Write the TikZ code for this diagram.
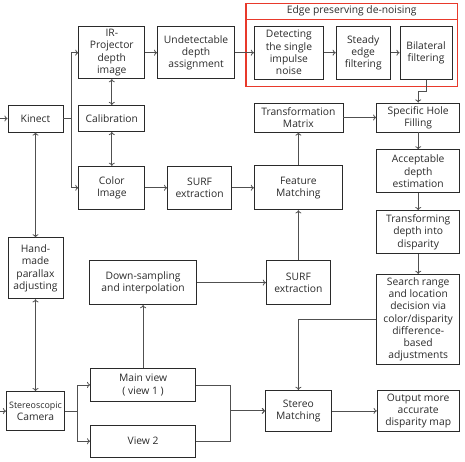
\documentclass[tikz,border=0pt]{standalone}
\usepackage{fontspec}
\setmainfont{Open Sans}
\usepackage{xcolor}
\usetikzlibrary{arrows.meta,positioning,fit}
\definecolor{boxline}{HTML}{2A2A2A}
\definecolor{linkgray}{HTML}{505050}
\definecolor{framered}{HTML}{E8392B}

\begin{document}
\begin{tikzpicture}[
  >={To[length=3.2pt,width=6pt]},
  box/.style={draw=boxline,line width=.8pt,align=center,inner sep=2pt,text=boxline},
  link/.style={draw=linkgray,line width=.8pt},
  arrow/.style={link,->},
  biarrow/.style={link,<->},
  every node/.style={font=\fontsize{10.3}{12.3}\selectfont}
]
  \useasboundingbox (0,0) rectangle (465pt,-462pt);
  % kinect branch
  \node[box,minimum width=55pt,minimum height=27pt] (kinect) at (35.5pt,-118.5pt) {Kinect};
  \node[box,minimum width=66pt,minimum height=26pt,right=15pt of kinect] (calib) {Calibration};
  \node[box,minimum width=66pt,minimum height=52pt,above=26pt of calib] (irimg) {IR-\\Projector\\depth\\image};
  \node[box,minimum width=66pt,minimum height=43pt,below=34pt of calib] (colorimg) {Color\\Image};
  \node[box,minimum width=77pt,minimum height=52pt,right=12pt of irimg] (undet) {Undetectable\\depth\\assignment};
  \node[box,minimum width=64pt,minimum height=43pt,right=22pt of colorimg] (surftop) {SURF\\extraction};
  % de-noising stages
  \node[box,minimum width=69pt,minimum height=53pt,right=19pt of undet] (detect) {Detecting\\the single\\impulse\\noise};
  \node[box,minimum width=54pt,minimum height=53pt,right=12pt of detect] (steady) {Steady\\edge\\filtering};
  \node[box,minimum width=52pt,minimum height=53pt,right=9pt of steady] (bilat) {Bilateral\\filtering};
  \coordinate (framenw) at ([shift={(-8pt,22pt)}]detect.north west);
  \coordinate (framese) at ([shift={(5pt,-7pt)}]bilat.south east);
  \node[draw=framered,line width=1.2pt,inner sep=0pt,fit=(framenw)(framese)] (denoise) {};
  \draw[framered,line width=1.2pt] ([yshift=-16pt]denoise.north west) -- ([yshift=-16pt]denoise.north east);
  \node[text=boxline,inner sep=0pt] (denoisetitle) at ([yshift=-8pt]denoise.north) {Edge preserving de-noising};
  % matching column
  \node[box,minimum width=88pt,minimum height=44pt,right=22pt of surftop] (featmatch) {Feature\\Matching};
  \node[box,minimum width=89pt,minimum height=29pt,above=33pt of featmatch] (transmat) {Transformation\\Matrix};
  \node[box,minimum width=83pt,minimum height=29pt,right=33pt of transmat] (holefill) {Specific Hole\\Filling};
  \node[box,minimum width=83pt,minimum height=43pt,below=17pt of holefill] (accdepth) {Acceptable\\depth\\estimation};
  \node[box,minimum width=83pt,minimum height=43pt,below=17pt of accdepth] (todisp) {Transforming\\depth into\\disparity};
  \node[box,minimum width=83pt,minimum height=90pt,below=20pt of todisp] (search) {Search range\\and location\\decision via\\color/disparity\\difference-\\based\\adjustments};
  \node[box,minimum width=64pt,minimum height=44pt,below=50pt of featmatch] (surfbot) {SURF\\extraction};
  \node[box,minimum width=107pt,minimum height=44pt,left=69pt of surfbot] (downsamp) {Down-sampling\\and interpolation};
  % stereoscopic branch
  \node[box,minimum width=55pt,minimum height=61pt,below=105pt of kinect] (handpar) {Hand-\\made\\parallax\\adjusting};
  \node[box,minimum width=58pt,minimum height=39pt,inner sep=1pt,below=92pt of handpar] (stcam) {{\fontsize{8.9}{11}\selectfont Stereoscopic}\\Camera};
  \node[box,minimum width=105pt,minimum height=33pt,below=63pt of downsamp] (mainview) {Main view\\( view 1 )};
  \node[box,minimum width=105pt,minimum height=32pt,below=23pt of mainview] (viewtwo) {View 2};
  \node[box,minimum width=66pt,minimum height=41pt,below=85pt of surfbot] (stmatch) {Stereo\\Matching};
  \node[box,minimum width=82pt,minimum height=41pt,right=45pt of stmatch] (output) {Output more\\accurate\\disparity map};

  % connectors
  \coordinate (kinectin) at ([xshift=-8pt]kinect.west);
  \coordinate (stcamin) at ([xshift=-7pt]stcam.west);
  \draw[arrow] (kinectin) -- (kinect);
  \draw[arrow] (stcamin) -- (stcam);
  \draw[link] (kinect.east) -- ++(8pt,0) coordinate (ksplit);
  \draw[arrow] (ksplit) |- (irimg.west);
  \draw[arrow] (ksplit) |- (colorimg.west);
  \draw[biarrow] (irimg) -- (calib);
  \draw[biarrow] (calib) -- (colorimg);
  \draw[arrow] (irimg) -- (undet);
  \draw[arrow] (undet) -- (detect);
  \draw[arrow] (detect) -- (steady);
  \draw[arrow] (steady) -- (bilat);
  \draw[arrow] (bilat.south) -- ++(0,-12pt) -| (holefill.north);
  \draw[arrow] (transmat) -- (holefill);
  \draw[arrow] (holefill) -- (accdepth);
  \draw[arrow] (accdepth) -- (todisp);
  \draw[arrow] (todisp) -- (search);
  \draw[arrow] (colorimg) -- (surftop);
  \draw[arrow] (surftop) -- (featmatch);
  \draw[arrow] (featmatch) -- (transmat);
  \draw[arrow] (surfbot) -- (featmatch);
  \draw[arrow] (downsamp) -- (surfbot);
  \draw[biarrow] (kinect) -- (handpar);
  \draw[biarrow] (handpar) -- (stcam);
  \draw[link] (stcam.east) -- ++(12pt,0) coordinate (csplit);
  \draw[arrow] (csplit) |- (mainview.west);
  \draw[arrow] (csplit) |- (viewtwo.west);
  \draw[arrow] (mainview) -- (downsamp);
  \coordinate (vjoin) at ([xshift=-35pt]stmatch.west);
  \draw[link] (mainview.east) -| (vjoin);
  \draw[link] (viewtwo.east) -| (vjoin);
  \draw[arrow,line width=1.1pt] (vjoin) -- (stmatch.west);
  \draw[arrow] (search.west) -| (stmatch.north);
  \draw[arrow] (stmatch) -- (output);
\end{tikzpicture}
\end{document}
